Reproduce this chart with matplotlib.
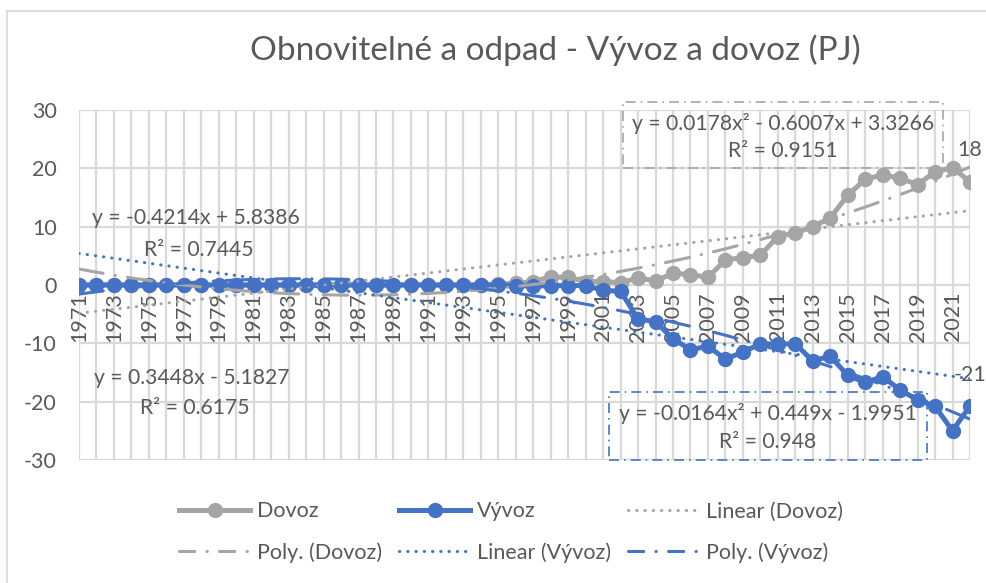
import numpy as np
import matplotlib
matplotlib.use("Agg")
import matplotlib.pyplot as plt
from matplotlib.patches import Rectangle
from matplotlib.lines import Line2D

# ---------------- data ----------------
years = list(range(1971, 2023))
dovoz = [0.0]*24 + [0.2, 0.3, 0.6, 1.4, 1.3, 0.6, 0.6,      # 1995-2001
         0.4, 1.2, 0.7, 2.0, 1.8, 1.3, 4.3, 4.7, 5.1, 8.3, 8.9, 10.0,  # 2002-2013
         11.5, 15.4, 18.1, 18.9, 18.3, 17.2, 19.4, 20.1, 17.7]  # 2014-2022
vyvoz = [0.0]*25 + [-0.1, -0.2, -0.1, -0.1, -0.1, -0.9,     # 1996-2001
         -1.1, -5.8, -6.3, -9.2, -11.1, -10.5, -12.7, -11.5, -10.1, -10.1,  # 2002-2011
         -10.1, -13.0, -12.2, -15.5, -16.7, -15.7, -18.0, -19.7, -20.8,     # 2012-2020
         -25.0, -20.7]                                                       # 2021-2022
lin_dovoz = [0.3448, -5.1827]
poly_dovoz = [0.0178, -0.6007, 3.3266]
lin_vyvoz = [-0.4214, 5.8386]
poly_vyvoz = [-0.0164, 0.449, -1.9951]
yticks = [-30, -20, -10, 0, 10, 20, 30]
title = "Obnovitelné a odpad - Vývoz a dovoz (PJ)"

GRAY = "#a5a5a5"
BLUE = "#4472c4"
TXT = "#595959"
GRID = "#d9d9d9"
FONT = "Lato"

W, H = 986, 583
fig = plt.figure(figsize=(W/100, H/100), dpi=100)
plt.rcParams['font.family'] = [FONT, 'DejaVu Sans']

def fx(px):
    return px / W

def fy(py):
    return 1 - py / H

# chart border (extends past right/bottom edge as in the reference)
fig.patches.append(Rectangle((fx(7), fy(700)), fx(1200) - fx(7), fy(11) - fy(700),
                             transform=fig.transFigure, fill=False, edgecolor=GRID, lw=1.3))

ax = fig.add_axes([fx(79), fy(460), fx(970) - fx(79), fy(110) - fy(460)])
ax.set_xlim(1971, 2022)
ax.set_ylim(-30, 30)
for s in ax.spines.values():
    s.set_visible(False)
ax.set_xticks(years)
ax.set_xticklabels([])
ax.tick_params(axis='x', length=0)
ax.set_yticks(yticks)
ax.set_yticklabels([str(v) for v in yticks], color=TXT, fontsize=15.5)
ax.tick_params(axis='y', length=0, pad=16)
ax.grid(True, color=GRID, lw=1.6, zorder=0)
ax.set_axisbelow(True)

# year labels next to zero axis
for yr in years[::2]:
    ax.annotate(str(yr), xy=(yr, 0), xytext=(0, -5), textcoords='offset points',
                rotation=90, ha='center', va='top', fontsize=15.5, color=TXT, zorder=2)

ax.plot(years, dovoz, color=GRAY, lw=3.6, marker='o', ms=10, zorder=3,
        solid_joinstyle='round')
ax.plot(years, vyvoz, color=BLUE, lw=3.6, marker='o', ms=10, zorder=4,
        solid_joinstyle='round')

t = np.arange(1, len(years) + 1)
dot = (0, (0.1, 2.6))
dashdot = (0, (8, 4, 0.1, 4))
ax.plot(years, np.polyval(lin_dovoz, t), color=GRAY, lw=2.2, ls=dot,
        dash_capstyle='round', zorder=5)
ax.plot(years, np.polyval(poly_dovoz, t), color=GRAY, lw=2.2, ls=dashdot,
        dash_capstyle='round', zorder=5)
ax.plot(years, np.polyval(lin_vyvoz, t), color=BLUE, lw=2.2, ls=dot,
        dash_capstyle='round', zorder=5)
ax.plot(years, np.polyval(poly_vyvoz, t), color=BLUE, lw=2.2, ls=dashdot,
        dash_capstyle='round', zorder=5)

# data labels
ax.annotate(f"{dovoz[-1]:.0f}", xy=(years[-1], dovoz[-1]), xytext=(0, 23),
            textcoords='offset points', ha='center', va='center', fontsize=15.5, color=TXT)
ax.annotate(f"{vyvoz[-1]:.0f}", xy=(years[-1], vyvoz[-1]), xytext=(0, 22),
            textcoords='offset points', ha='center', va='center', fontsize=15.5, color=TXT)

# title
fig.text(fx(555), fy(50), title, ha='center', va='center', fontsize=24, color=TXT)

# trendline equations
EQ = 15.2
fig.text(fx(196), fy(218), "y = -0.4214x + 5.8386", ha='center', va='center', fontsize=EQ, color=TXT)
fig.text(fx(199), fy(250), "R² = 0.7445", ha='center', va='center', fontsize=EQ, color=TXT)
fig.text(fx(192), fy(378), "y = 0.3448x - 5.1827", ha='center', va='center', fontsize=EQ, color=TXT)
fig.text(fx(195), fy(408), "R² = 0.6175", ha='center', va='center', fontsize=EQ, color=TXT)
fig.text(fx(783), fy(123), "y = 0.0178x² - 0.6007x + 3.3266", ha='center', va='center', fontsize=EQ, color=TXT)
fig.text(fx(783), fy(151), "R² = 0.9151", ha='center', va='center', fontsize=EQ, color=TXT)
fig.text(fx(768), fy(413), "y = -0.0164x² + 0.449x - 1.9951", ha='center', va='center', fontsize=EQ, color=TXT)
fig.text(fx(768), fy(442), "R² = 0.948", ha='center', va='center', fontsize=EQ, color=TXT)

for (x0, y0, x1, y1, c) in [(623, 102, 943, 168, GRAY), (609, 392, 927, 460, BLUE)]:
    fig.patches.append(Rectangle((fx(x0), fy(y1)), fx(x1) - fx(x0), fy(y0) - fy(y1),
                                 transform=fig.transFigure, fill=False, edgecolor=c,
                                 lw=1.2, ls=(0, (6, 3, 1, 3)), zorder=6))

# legend
h_d = Line2D([], [], color=GRAY, lw=3.6, marker='o', ms=10)
h_v = Line2D([], [], color=BLUE, lw=3.6, marker='o', ms=10)
h_ld = Line2D([], [], color=GRAY, lw=2.2, ls=dot, dash_capstyle='round')
h_pd = Line2D([], [], color=GRAY, lw=2.2, ls=(0, (5, 4, 0.1, 4)), dash_capstyle='round')
h_lv = Line2D([], [], color=BLUE, lw=2.2, ls=dot, dash_capstyle='round')
h_pv = Line2D([], [], color=BLUE, lw=2.2, ls=(0, (5, 4, 0.1, 4)), dash_capstyle='round')
handles = [h_d, h_pd, h_v, h_lv, h_ld, h_pv]
labels = ["Dovoz", "Poly. (Dovoz)", "Vývoz", "Linear (Vývoz)", "Linear (Dovoz)", "Poly. (Vývoz)"]
leg = fig.legend(handles, labels, ncol=3, loc='center', bbox_to_anchor=(fx(511), fy(532)),
                 frameon=False, fontsize=15.5, handlelength=3.3, handletextpad=0.3,
                 columnspacing=0.8, labelspacing=0.95, labelcolor=TXT)

fig.savefig("out.png", dpi=100)
